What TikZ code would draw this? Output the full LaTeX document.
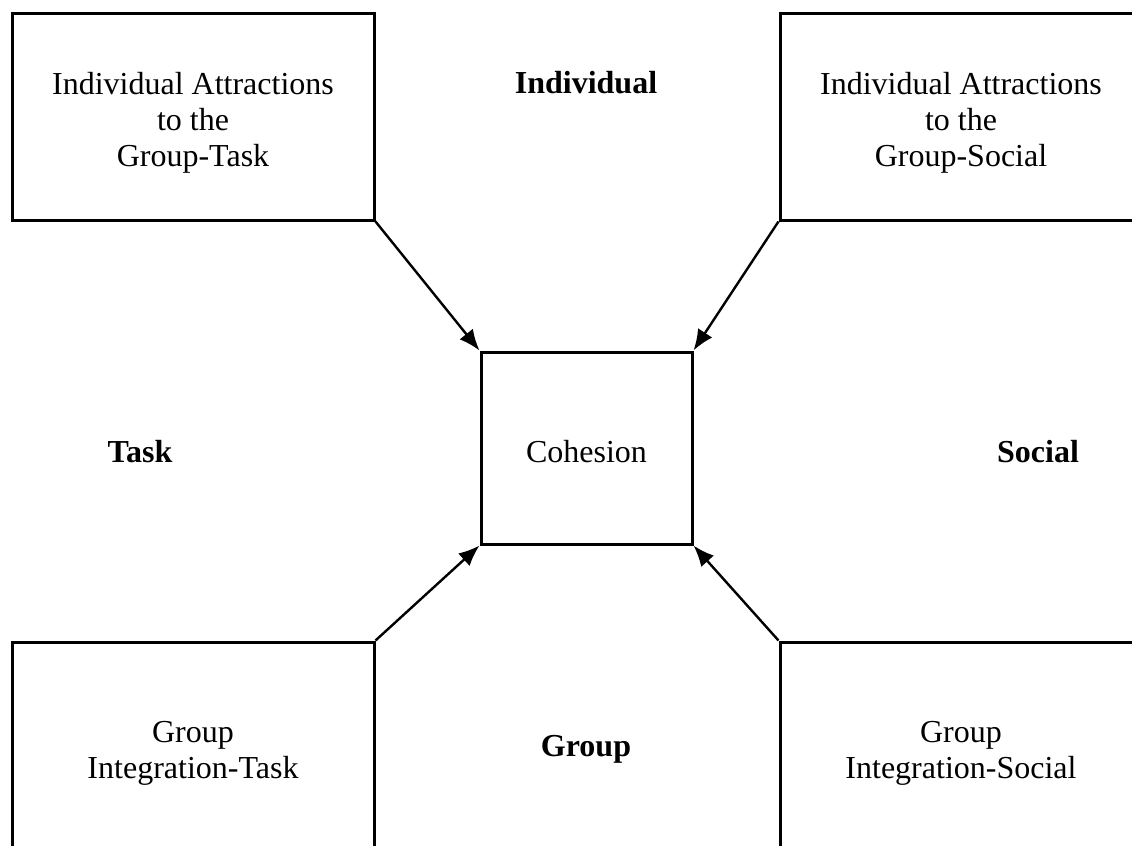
\documentclass[tikz,border=0pt]{standalone}
\usepackage{fontspec}
\setmainfont{Liberation Serif}
\usetikzlibrary{arrows.meta}

\begin{document}
\begin{tikzpicture}[x=0.5pt,y=-0.5pt,
	every node/.style={font=\fontsize{16pt}{18pt}\selectfont},
	box/.style={draw, line width=1.5pt, align=center, inner sep=0pt,
		minimum width=181pt, minimum height=103.5pt},
	corebox/.style={draw, line width=1.5pt, inner sep=0pt,
		minimum width=105.5pt, minimum height=96pt},
	dim/.style={font=\fontsize{16pt}{18pt}\selectfont\bfseries},
	arr/.style={-{Latex[length=10.5pt,width=8.5pt]}, line width=1.2pt}]

%frame
\clip (0,0) rectangle (1132,846);

% boxes
\node[box] (tl) at (193,116.5) {\rule{0pt}{17pt}Individual Attractions\\to the\\Group-Task};
\node[box] (tr) at (961,116.5) {\rule{0pt}{17pt}Individual Attractions\\to the\\Group-Social};
\node[box] (bl) at (193,745.5) {\rule{0pt}{18pt}Group\\Integration-Task};
\node[box] (br) at (961,745.5) {\rule{0pt}{18pt}Group\\Integration-Social};
\node[corebox] (coh) at (586.5,448) {\rule{0pt}{15pt}Cohesion};

% labels
\node[dim] (ind) at (586,83) {Individual};
\node[dim] (task) at (140,452) {Task};
\node[dim] (soc) at (1038,452) {Social};
\node[dim] (grp) at (586,749) {Group};

% arrows
\draw[arr] (tl.south east) -- (coh.north west);
\draw[arr] (tr.south west) -- (coh.north east);
\draw[arr] (bl.north east) -- (coh.south west);
\draw[arr] (br.north west) -- (coh.south east);

\end{tikzpicture}
\end{document}
